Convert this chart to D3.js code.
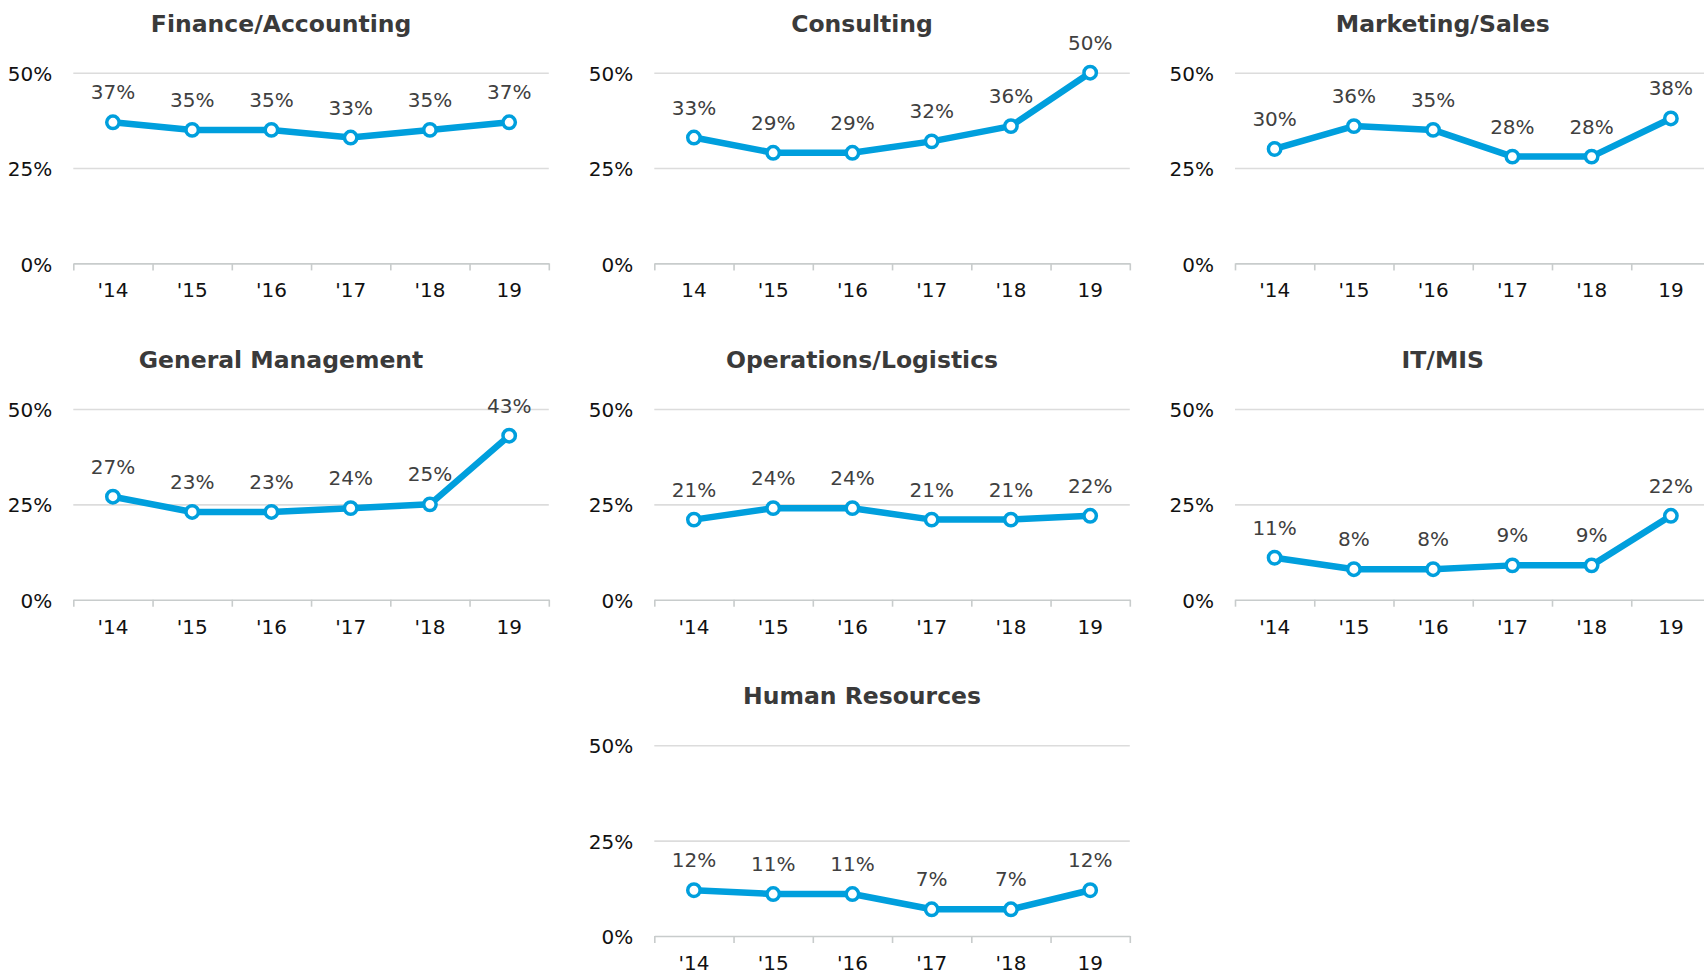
<!DOCTYPE html>
<html>
<head>
<meta charset="utf-8">
<script src="https://cdn.jsdelivr.net/npm/d3@7"></script>
<style>
  body { margin: 0; background: #fff; }
  svg { display: block; }
  svg text { font-family: "DejaVu Sans", Verdana, sans-serif; }
</style>
</head>
<body>
<svg id="chart"></svg>
<script>
// data (shares per function, 2014-2019)
const years = ["2014", "2015", "2016", "2017", "2018", "2019"];
const yearLabels = ["'14", "'15", "'16", "'17", "'18", "19"];
const consultingYearLabels = ["14", "'15", "'16", "'17", "'18", "19"];
const yTicks = [0, 0.25, 0.5];

const titles = [
  "Finance/Accounting", "Consulting", "Marketing/Sales",
  "General Management", "Operations/Logistics", "IT/MIS",
  "Human Resources"
];
const financeValues    = [0.37, 0.35, 0.35, 0.33, 0.35, 0.37];
const consultingValues = [0.33, 0.29, 0.29, 0.32, 0.36, 0.50];
const marketingValues  = [0.30, 0.36, 0.35, 0.28, 0.28, 0.38];
const generalValues    = [0.27, 0.23, 0.23, 0.24, 0.25, 0.43];
const operationsValues = [0.21, 0.24, 0.24, 0.21, 0.21, 0.22];
const itValues         = [0.11, 0.08, 0.08, 0.09, 0.09, 0.22];
const hrValues         = [0.12, 0.11, 0.11, 0.07, 0.07, 0.12];

const panels = [
  {title: titles[0], values: financeValues,    labels: yearLabels,           col: 0, row: 0},
  {title: titles[1], values: consultingValues, labels: consultingYearLabels, col: 1, row: 0},
  {title: titles[2], values: marketingValues,  labels: yearLabels,           col: 2, row: 0},
  {title: titles[3], values: generalValues,    labels: yearLabels,           col: 0, row: 1},
  {title: titles[4], values: operationsValues, labels: yearLabels,           col: 1, row: 1},
  {title: titles[5], values: itValues,         labels: yearLabels,           col: 2, row: 1},
  {title: titles[6], values: hrValues,         labels: yearLabels,           col: 1, row: 2}
];

const width = 1704, height = 974;
const svg = d3.select("#chart").attr("width", width).attr("height", height);

// panel geometry
const plotW = 475.5, plotH = 190.7;
const colLeft = [73.3, 654.3, 1235];
const rowTop = [72.7, 409, 745.3];
const blue = "#009fdd";
const pct = d3.format(".0%");

panels.forEach(p => {
  const g = svg.append("g")
    .attr("transform", `translate(${colLeft[p.col]},${rowTop[p.row]})`);

  const x = d3.scaleBand().domain(years).range([0, plotW]);
  const y = d3.scaleLinear().domain([0, 0.5]).range([plotH, 0]);
  const edges = d3.scaleLinear().domain([0, years.length]).range([0, plotW]);

  // gridlines
  g.append("g")
    .call(d3.axisLeft(y).tickValues([0.25, 0.5]).tickSize(-plotW).tickFormat(""))
    .call(a => a.select(".domain").remove())
    .call(a => a.selectAll("line").attr("stroke", "#dcdcdc").attr("stroke-width", 1.6));

  // y labels
  g.append("g")
    .call(d3.axisLeft(y).tickValues(yTicks).tickSize(0).tickPadding(21).tickFormat(pct))
    .call(a => a.select(".domain").remove())
    .call(a => a.selectAll("text")
      .attr("font-size", 20).attr("fill", "#111").attr("dy", "0.38em"));

  // x axis line with ticks between categories
  g.append("g")
    .attr("transform", `translate(0,${plotH})`)
    .call(d3.axisBottom(edges).tickValues(d3.range(years.length + 1)).tickSize(7).tickFormat("").tickSizeOuter(0))
    .call(a => a.select(".domain").attr("stroke", "#c8cccc").attr("stroke-width", 1.6))
    .call(a => a.selectAll("line").attr("stroke", "#c8cccc").attr("stroke-width", 1.6));

  // x labels
  g.append("g")
    .attr("transform", `translate(0,${plotH})`)
    .call(d3.axisBottom(x).tickSize(0).tickPadding(0).tickFormat((d, i) => p.labels[i]))
    .call(a => a.select(".domain").remove())
    .call(a => a.selectAll("text")
      .attr("font-size", 20).attr("fill", "#111").attr("dy", 34));

  // title, centred over the panel including its y labels
  g.append("text")
    .attr("x", plotW / 2 - 30)
    .attr("y", -41)
    .attr("text-anchor", "middle")
    .attr("font-size", 23.5)
    .attr("font-weight", "bold")
    .attr("fill", "#3a3a3a")
    .text(p.title);

  const pts = years.map((yr, i) => ({yr, v: p.values[i]}));
  const cx = d => x(d.yr) + x.bandwidth() / 2;

  g.append("path")
    .datum(pts)
    .attr("fill", "none")
    .attr("stroke", blue)
    .attr("stroke-width", 6.5)
    .attr("stroke-linejoin", "round")
    .attr("d", d3.line().x(cx).y(d => y(d.v)));

  g.selectAll("circle")
    .data(pts)
    .enter().append("circle")
      .attr("cx", cx)
      .attr("cy", d => y(d.v))
      .attr("r", 6.2)
      .attr("fill", "#fff")
      .attr("stroke", blue)
      .attr("stroke-width", 3.5);

  g.selectAll("text.val")
    .data(pts)
    .enter().append("text")
      .attr("class", "val")
      .attr("x", cx)
      .attr("y", d => y(d.v) - 23)
      .attr("text-anchor", "middle")
      .attr("font-size", 20)
      .attr("fill", "#404040")
      .text(d => pct(d.v));
});
</script>
</body>
</html>
